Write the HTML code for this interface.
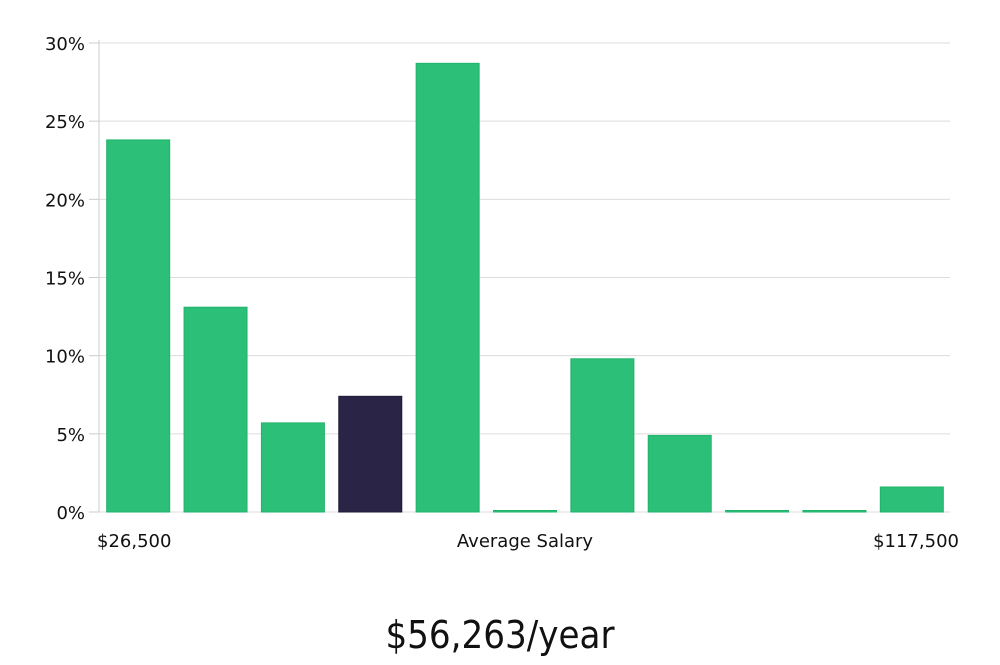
<!DOCTYPE html>
<html><head><meta charset="utf-8"><style>
body{margin:0;background:#fff;width:1000px;height:660px;overflow:hidden}
svg text{font-family:"DejaVu Sans","Liberation Sans",sans-serif}
</style></head><body>
<svg id="chart" width="1000" height="660" xmlns="http://www.w3.org/2000/svg">
<g id="grid"></g>
<g id="yaxis"></g>
<g id="bars"></g>
<text x="97" y="547" font-size="18" fill="#111">$26,500</text>
<text x="525" y="547" font-size="18" fill="#111" text-anchor="middle">Average Salary</text>
<text x="959" y="547" font-size="18" fill="#111" text-anchor="end">$117,500</text>
<text x="500" y="648" font-size="38" font-weight="300" fill="#111" text-anchor="middle" style="font-family:'DejaVu Sans Condensed','Liberation Sans Narrow',sans-serif;font-weight:200">$56,263/year</text>
</svg>
<script>
const values=[23.8,13.1,5.7,7.4,28.7,0,9.8,4.9,0,0,1.6];
const highlight=[0,0,0,1,0,0,0,0,0,0,0];
const yTicks=[0,5,10,15,20,25,30];
const yTickLabels=["0%","5%","10%","15%","20%","25%","30%"];
const NS="http://www.w3.org/2000/svg";
const x0=99,x1=950,y0=512,y1=43,yMax=30;
const y=v=>y0-(v/yMax)*(y0-y1);
const slot=(x1-x0)/values.length;
const xb=i=>x0+i*slot+(slot-63)/2+0.5;
const grid=document.getElementById('grid'),ya=document.getElementById('yaxis'),bars=document.getElementById('bars');
function mk(t,a){const e=document.createElementNS(NS,t);for(const k in a)e.setAttribute(k,a[k]);return e;}
yTicks.forEach((t,i)=>{
 const l=mk('line',{x1:x0,x2:x1,y1:y(t),y2:y(t),stroke:'#dcdcdc','stroke-width':1});
 
 
 grid.appendChild(l);
 const tk=mk('line',{x1:89,x2:x0,y1:y(t),y2:y(t),stroke:'#ccc','stroke-width':1});
 
 
 ya.appendChild(tk);
 const tx=mk('text',{x:85,y:y(t)+7,'font-size':18,fill:'#111','text-anchor':'end'});
 
 
 tx.textContent=yTickLabels[i];ya.appendChild(tx);
});
const ax=mk('line',{x1:x0,x2:x0,y1:40,y2:y0,stroke:'#ccc','stroke-width':1});


ya.appendChild(ax);
values.forEach((v,i)=>{
 const h=Math.max(1.5,y0-y(v));
 const r=mk('rect',{x:xb(i),y:y0-h,width:63,height:h,fill:highlight[i]?'#2a2547':'#2bbf78',stroke:highlight[i]?'#1e1a3a':'#22b36c','stroke-width':1});
 
 
 bars.appendChild(r);
});
</script>
</body></html>
